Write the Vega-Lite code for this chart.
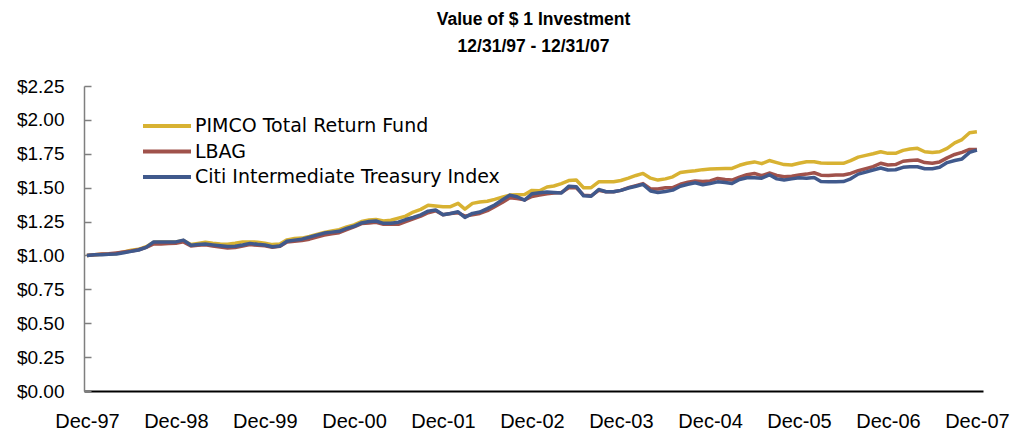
{
"$schema": "https://vega.github.io/schema/vega-lite/v6.json",
"width": 899, "height": 305,
"autosize": "none",
"padding": {"left": 84, "top": 86, "right": 38, "bottom": 40},
"background": "white",
"title": {"text": ["Value of $ 1 Investment", "12/31/97 - 12/31/07"], "font": "Liberation Sans", "fontSize": 17.5, "fontWeight": "bold", "color": "black", "lineHeight": 27, "anchor": "middle", "frame": "group", "offset": 22},
"config": {"view": {"stroke": null}},
"data": {"values": [
{"date":"1997-12","series":"PIMCO Total Return Fund","value":1.00},
{"date":"1998-01","series":"PIMCO Total Return Fund","value":1.005},
{"date":"1998-02","series":"PIMCO Total Return Fund","value":1.008},
{"date":"1998-03","series":"PIMCO Total Return Fund","value":1.01},
{"date":"1998-04","series":"PIMCO Total Return Fund","value":1.015},
{"date":"1998-05","series":"PIMCO Total Return Fund","value":1.025},
{"date":"1998-06","series":"PIMCO Total Return Fund","value":1.038},
{"date":"1998-07","series":"PIMCO Total Return Fund","value":1.045},
{"date":"1998-08","series":"PIMCO Total Return Fund","value":1.065},
{"date":"1998-09","series":"PIMCO Total Return Fund","value":1.098},
{"date":"1998-10","series":"PIMCO Total Return Fund","value":1.10},
{"date":"1998-11","series":"PIMCO Total Return Fund","value":1.10},
{"date":"1998-12","series":"PIMCO Total Return Fund","value":1.10},
{"date":"1999-01","series":"PIMCO Total Return Fund","value":1.11},
{"date":"1999-02","series":"PIMCO Total Return Fund","value":1.08},
{"date":"1999-03","series":"PIMCO Total Return Fund","value":1.088},
{"date":"1999-04","series":"PIMCO Total Return Fund","value":1.098},
{"date":"1999-05","series":"PIMCO Total Return Fund","value":1.09},
{"date":"1999-06","series":"PIMCO Total Return Fund","value":1.085},
{"date":"1999-07","series":"PIMCO Total Return Fund","value":1.083},
{"date":"1999-08","series":"PIMCO Total Return Fund","value":1.09},
{"date":"1999-09","series":"PIMCO Total Return Fund","value":1.10},
{"date":"1999-10","series":"PIMCO Total Return Fund","value":1.10},
{"date":"1999-11","series":"PIMCO Total Return Fund","value":1.098},
{"date":"1999-12","series":"PIMCO Total Return Fund","value":1.09},
{"date":"2000-01","series":"PIMCO Total Return Fund","value":1.08},
{"date":"2000-02","series":"PIMCO Total Return Fund","value":1.085},
{"date":"2000-03","series":"PIMCO Total Return Fund","value":1.115},
{"date":"2000-04","series":"PIMCO Total Return Fund","value":1.125},
{"date":"2000-05","series":"PIMCO Total Return Fund","value":1.128},
{"date":"2000-06","series":"PIMCO Total Return Fund","value":1.14},
{"date":"2000-07","series":"PIMCO Total Return Fund","value":1.155},
{"date":"2000-08","series":"PIMCO Total Return Fund","value":1.17},
{"date":"2000-09","series":"PIMCO Total Return Fund","value":1.18},
{"date":"2000-10","series":"PIMCO Total Return Fund","value":1.19},
{"date":"2000-11","series":"PIMCO Total Return Fund","value":1.21},
{"date":"2000-12","series":"PIMCO Total Return Fund","value":1.225},
{"date":"2001-01","series":"PIMCO Total Return Fund","value":1.25},
{"date":"2001-02","series":"PIMCO Total Return Fund","value":1.262},
{"date":"2001-03","series":"PIMCO Total Return Fund","value":1.266},
{"date":"2001-04","series":"PIMCO Total Return Fund","value":1.254},
{"date":"2001-05","series":"PIMCO Total Return Fund","value":1.26},
{"date":"2001-06","series":"PIMCO Total Return Fund","value":1.275},
{"date":"2001-07","series":"PIMCO Total Return Fund","value":1.29},
{"date":"2001-08","series":"PIMCO Total Return Fund","value":1.32},
{"date":"2001-09","series":"PIMCO Total Return Fund","value":1.34},
{"date":"2001-10","series":"PIMCO Total Return Fund","value":1.37},
{"date":"2001-11","series":"PIMCO Total Return Fund","value":1.365},
{"date":"2001-12","series":"PIMCO Total Return Fund","value":1.36},
{"date":"2002-01","series":"PIMCO Total Return Fund","value":1.36},
{"date":"2002-02","series":"PIMCO Total Return Fund","value":1.384},
{"date":"2002-03","series":"PIMCO Total Return Fund","value":1.342},
{"date":"2002-04","series":"PIMCO Total Return Fund","value":1.384},
{"date":"2002-05","series":"PIMCO Total Return Fund","value":1.394},
{"date":"2002-06","series":"PIMCO Total Return Fund","value":1.40},
{"date":"2002-07","series":"PIMCO Total Return Fund","value":1.414},
{"date":"2002-08","series":"PIMCO Total Return Fund","value":1.43},
{"date":"2002-09","series":"PIMCO Total Return Fund","value":1.445},
{"date":"2002-10","series":"PIMCO Total Return Fund","value":1.448},
{"date":"2002-11","series":"PIMCO Total Return Fund","value":1.45},
{"date":"2002-12","series":"PIMCO Total Return Fund","value":1.48},
{"date":"2003-01","series":"PIMCO Total Return Fund","value":1.477},
{"date":"2003-02","series":"PIMCO Total Return Fund","value":1.505},
{"date":"2003-03","series":"PIMCO Total Return Fund","value":1.512},
{"date":"2003-04","series":"PIMCO Total Return Fund","value":1.53},
{"date":"2003-05","series":"PIMCO Total Return Fund","value":1.552},
{"date":"2003-06","series":"PIMCO Total Return Fund","value":1.556},
{"date":"2003-07","series":"PIMCO Total Return Fund","value":1.50},
{"date":"2003-08","series":"PIMCO Total Return Fund","value":1.50},
{"date":"2003-09","series":"PIMCO Total Return Fund","value":1.543},
{"date":"2003-10","series":"PIMCO Total Return Fund","value":1.543},
{"date":"2003-11","series":"PIMCO Total Return Fund","value":1.543},
{"date":"2003-12","series":"PIMCO Total Return Fund","value":1.553},
{"date":"2004-01","series":"PIMCO Total Return Fund","value":1.57},
{"date":"2004-02","series":"PIMCO Total Return Fund","value":1.59},
{"date":"2004-03","series":"PIMCO Total Return Fund","value":1.605},
{"date":"2004-04","series":"PIMCO Total Return Fund","value":1.57},
{"date":"2004-05","series":"PIMCO Total Return Fund","value":1.556},
{"date":"2004-06","series":"PIMCO Total Return Fund","value":1.565},
{"date":"2004-07","series":"PIMCO Total Return Fund","value":1.58},
{"date":"2004-08","series":"PIMCO Total Return Fund","value":1.612},
{"date":"2004-09","series":"PIMCO Total Return Fund","value":1.62},
{"date":"2004-10","series":"PIMCO Total Return Fund","value":1.625},
{"date":"2004-11","series":"PIMCO Total Return Fund","value":1.633},
{"date":"2004-12","series":"PIMCO Total Return Fund","value":1.637},
{"date":"2005-01","series":"PIMCO Total Return Fund","value":1.64},
{"date":"2005-02","series":"PIMCO Total Return Fund","value":1.642},
{"date":"2005-03","series":"PIMCO Total Return Fund","value":1.642},
{"date":"2005-04","series":"PIMCO Total Return Fund","value":1.665},
{"date":"2005-05","series":"PIMCO Total Return Fund","value":1.68},
{"date":"2005-06","series":"PIMCO Total Return Fund","value":1.69},
{"date":"2005-07","series":"PIMCO Total Return Fund","value":1.677},
{"date":"2005-08","series":"PIMCO Total Return Fund","value":1.70},
{"date":"2005-09","series":"PIMCO Total Return Fund","value":1.685},
{"date":"2005-10","series":"PIMCO Total Return Fund","value":1.67},
{"date":"2005-11","series":"PIMCO Total Return Fund","value":1.667},
{"date":"2005-12","series":"PIMCO Total Return Fund","value":1.68},
{"date":"2006-01","series":"PIMCO Total Return Fund","value":1.691},
{"date":"2006-02","series":"PIMCO Total Return Fund","value":1.691},
{"date":"2006-03","series":"PIMCO Total Return Fund","value":1.682},
{"date":"2006-04","series":"PIMCO Total Return Fund","value":1.68},
{"date":"2006-05","series":"PIMCO Total Return Fund","value":1.68},
{"date":"2006-06","series":"PIMCO Total Return Fund","value":1.68},
{"date":"2006-07","series":"PIMCO Total Return Fund","value":1.70},
{"date":"2006-08","series":"PIMCO Total Return Fund","value":1.725},
{"date":"2006-09","series":"PIMCO Total Return Fund","value":1.738},
{"date":"2006-10","series":"PIMCO Total Return Fund","value":1.75},
{"date":"2006-11","series":"PIMCO Total Return Fund","value":1.765},
{"date":"2006-12","series":"PIMCO Total Return Fund","value":1.753},
{"date":"2007-01","series":"PIMCO Total Return Fund","value":1.753},
{"date":"2007-02","series":"PIMCO Total Return Fund","value":1.775},
{"date":"2007-03","series":"PIMCO Total Return Fund","value":1.785},
{"date":"2007-04","series":"PIMCO Total Return Fund","value":1.79},
{"date":"2007-05","series":"PIMCO Total Return Fund","value":1.765},
{"date":"2007-06","series":"PIMCO Total Return Fund","value":1.76},
{"date":"2007-07","series":"PIMCO Total Return Fund","value":1.765},
{"date":"2007-08","series":"PIMCO Total Return Fund","value":1.79},
{"date":"2007-09","series":"PIMCO Total Return Fund","value":1.83},
{"date":"2007-10","series":"PIMCO Total Return Fund","value":1.855},
{"date":"2007-11","series":"PIMCO Total Return Fund","value":1.905},
{"date":"2007-12","series":"PIMCO Total Return Fund","value":1.912},
{"date":"1997-12","series":"LBAG","value":1.00},
{"date":"1998-01","series":"LBAG","value":1.005},
{"date":"1998-02","series":"LBAG","value":1.01},
{"date":"1998-03","series":"LBAG","value":1.012},
{"date":"1998-04","series":"LBAG","value":1.018},
{"date":"1998-05","series":"LBAG","value":1.025},
{"date":"1998-06","series":"LBAG","value":1.033},
{"date":"1998-07","series":"LBAG","value":1.042},
{"date":"1998-08","series":"LBAG","value":1.06},
{"date":"1998-09","series":"LBAG","value":1.085},
{"date":"1998-10","series":"LBAG","value":1.085},
{"date":"1998-11","series":"LBAG","value":1.088},
{"date":"1998-12","series":"LBAG","value":1.09},
{"date":"1999-01","series":"LBAG","value":1.10},
{"date":"1999-02","series":"LBAG","value":1.07},
{"date":"1999-03","series":"LBAG","value":1.075},
{"date":"1999-04","series":"LBAG","value":1.078},
{"date":"1999-05","series":"LBAG","value":1.07},
{"date":"1999-06","series":"LBAG","value":1.062},
{"date":"1999-07","series":"LBAG","value":1.055},
{"date":"1999-08","series":"LBAG","value":1.058},
{"date":"1999-09","series":"LBAG","value":1.07},
{"date":"1999-10","series":"LBAG","value":1.08},
{"date":"1999-11","series":"LBAG","value":1.075},
{"date":"1999-12","series":"LBAG","value":1.072},
{"date":"2000-01","series":"LBAG","value":1.06},
{"date":"2000-02","series":"LBAG","value":1.068},
{"date":"2000-03","series":"LBAG","value":1.10},
{"date":"2000-04","series":"LBAG","value":1.105},
{"date":"2000-05","series":"LBAG","value":1.11},
{"date":"2000-06","series":"LBAG","value":1.12},
{"date":"2000-07","series":"LBAG","value":1.135},
{"date":"2000-08","series":"LBAG","value":1.15},
{"date":"2000-09","series":"LBAG","value":1.16},
{"date":"2000-10","series":"LBAG","value":1.168},
{"date":"2000-11","series":"LBAG","value":1.19},
{"date":"2000-12","series":"LBAG","value":1.21},
{"date":"2001-01","series":"LBAG","value":1.235},
{"date":"2001-02","series":"LBAG","value":1.24},
{"date":"2001-03","series":"LBAG","value":1.245},
{"date":"2001-04","series":"LBAG","value":1.23},
{"date":"2001-05","series":"LBAG","value":1.23},
{"date":"2001-06","series":"LBAG","value":1.23},
{"date":"2001-07","series":"LBAG","value":1.25},
{"date":"2001-08","series":"LBAG","value":1.27},
{"date":"2001-09","series":"LBAG","value":1.29},
{"date":"2001-10","series":"LBAG","value":1.315},
{"date":"2001-11","series":"LBAG","value":1.33},
{"date":"2001-12","series":"LBAG","value":1.30},
{"date":"2002-01","series":"LBAG","value":1.31},
{"date":"2002-02","series":"LBAG","value":1.315},
{"date":"2002-03","series":"LBAG","value":1.29},
{"date":"2002-04","series":"LBAG","value":1.30},
{"date":"2002-05","series":"LBAG","value":1.31},
{"date":"2002-06","series":"LBAG","value":1.33},
{"date":"2002-07","series":"LBAG","value":1.36},
{"date":"2002-08","series":"LBAG","value":1.39},
{"date":"2002-09","series":"LBAG","value":1.425},
{"date":"2002-10","series":"LBAG","value":1.42},
{"date":"2002-11","series":"LBAG","value":1.41},
{"date":"2002-12","series":"LBAG","value":1.435},
{"date":"2003-01","series":"LBAG","value":1.445},
{"date":"2003-02","series":"LBAG","value":1.455},
{"date":"2003-03","series":"LBAG","value":1.46},
{"date":"2003-04","series":"LBAG","value":1.465},
{"date":"2003-05","series":"LBAG","value":1.50},
{"date":"2003-06","series":"LBAG","value":1.50},
{"date":"2003-07","series":"LBAG","value":1.445},
{"date":"2003-08","series":"LBAG","value":1.44},
{"date":"2003-09","series":"LBAG","value":1.48},
{"date":"2003-10","series":"LBAG","value":1.47},
{"date":"2003-11","series":"LBAG","value":1.47},
{"date":"2003-12","series":"LBAG","value":1.48},
{"date":"2004-01","series":"LBAG","value":1.50},
{"date":"2004-02","series":"LBAG","value":1.515},
{"date":"2004-03","series":"LBAG","value":1.53},
{"date":"2004-04","series":"LBAG","value":1.49},
{"date":"2004-05","series":"LBAG","value":1.49},
{"date":"2004-06","series":"LBAG","value":1.50},
{"date":"2004-07","series":"LBAG","value":1.50},
{"date":"2004-08","series":"LBAG","value":1.525},
{"date":"2004-09","series":"LBAG","value":1.54},
{"date":"2004-10","series":"LBAG","value":1.55},
{"date":"2004-11","series":"LBAG","value":1.545},
{"date":"2004-12","series":"LBAG","value":1.55},
{"date":"2005-01","series":"LBAG","value":1.568},
{"date":"2005-02","series":"LBAG","value":1.56},
{"date":"2005-03","series":"LBAG","value":1.556},
{"date":"2005-04","series":"LBAG","value":1.578},
{"date":"2005-05","series":"LBAG","value":1.595},
{"date":"2005-06","series":"LBAG","value":1.605},
{"date":"2005-07","series":"LBAG","value":1.588},
{"date":"2005-08","series":"LBAG","value":1.608},
{"date":"2005-09","series":"LBAG","value":1.59},
{"date":"2005-10","series":"LBAG","value":1.58},
{"date":"2005-11","series":"LBAG","value":1.585},
{"date":"2005-12","series":"LBAG","value":1.593},
{"date":"2006-01","series":"LBAG","value":1.60},
{"date":"2006-02","series":"LBAG","value":1.61},
{"date":"2006-03","series":"LBAG","value":1.592},
{"date":"2006-04","series":"LBAG","value":1.59},
{"date":"2006-05","series":"LBAG","value":1.593},
{"date":"2006-06","series":"LBAG","value":1.593},
{"date":"2006-07","series":"LBAG","value":1.605},
{"date":"2006-08","series":"LBAG","value":1.625},
{"date":"2006-09","series":"LBAG","value":1.64},
{"date":"2006-10","series":"LBAG","value":1.655},
{"date":"2006-11","series":"LBAG","value":1.68},
{"date":"2006-12","series":"LBAG","value":1.667},
{"date":"2007-01","series":"LBAG","value":1.67},
{"date":"2007-02","series":"LBAG","value":1.695},
{"date":"2007-03","series":"LBAG","value":1.70},
{"date":"2007-04","series":"LBAG","value":1.704},
{"date":"2007-05","series":"LBAG","value":1.685},
{"date":"2007-06","series":"LBAG","value":1.68},
{"date":"2007-07","series":"LBAG","value":1.69},
{"date":"2007-08","series":"LBAG","value":1.72},
{"date":"2007-09","series":"LBAG","value":1.745},
{"date":"2007-10","series":"LBAG","value":1.76},
{"date":"2007-11","series":"LBAG","value":1.782},
{"date":"2007-12","series":"LBAG","value":1.782},
{"date":"1997-12","series":"Citi Intermediate Treasury Index","value":1.00},
{"date":"1998-01","series":"Citi Intermediate Treasury Index","value":1.005},
{"date":"1998-02","series":"Citi Intermediate Treasury Index","value":1.006},
{"date":"1998-03","series":"Citi Intermediate Treasury Index","value":1.008},
{"date":"1998-04","series":"Citi Intermediate Treasury Index","value":1.01},
{"date":"1998-05","series":"Citi Intermediate Treasury Index","value":1.02},
{"date":"1998-06","series":"Citi Intermediate Treasury Index","value":1.03},
{"date":"1998-07","series":"Citi Intermediate Treasury Index","value":1.04},
{"date":"1998-08","series":"Citi Intermediate Treasury Index","value":1.06},
{"date":"1998-09","series":"Citi Intermediate Treasury Index","value":1.10},
{"date":"1998-10","series":"Citi Intermediate Treasury Index","value":1.10},
{"date":"1998-11","series":"Citi Intermediate Treasury Index","value":1.10},
{"date":"1998-12","series":"Citi Intermediate Treasury Index","value":1.10},
{"date":"1999-01","series":"Citi Intermediate Treasury Index","value":1.113},
{"date":"1999-02","series":"Citi Intermediate Treasury Index","value":1.075},
{"date":"1999-03","series":"Citi Intermediate Treasury Index","value":1.08},
{"date":"1999-04","series":"Citi Intermediate Treasury Index","value":1.084},
{"date":"1999-05","series":"Citi Intermediate Treasury Index","value":1.078},
{"date":"1999-06","series":"Citi Intermediate Treasury Index","value":1.072},
{"date":"1999-07","series":"Citi Intermediate Treasury Index","value":1.066},
{"date":"1999-08","series":"Citi Intermediate Treasury Index","value":1.068},
{"date":"1999-09","series":"Citi Intermediate Treasury Index","value":1.077},
{"date":"1999-10","series":"Citi Intermediate Treasury Index","value":1.089},
{"date":"1999-11","series":"Citi Intermediate Treasury Index","value":1.082},
{"date":"1999-12","series":"Citi Intermediate Treasury Index","value":1.077},
{"date":"2000-01","series":"Citi Intermediate Treasury Index","value":1.064},
{"date":"2000-02","series":"Citi Intermediate Treasury Index","value":1.07},
{"date":"2000-03","series":"Citi Intermediate Treasury Index","value":1.105},
{"date":"2000-04","series":"Citi Intermediate Treasury Index","value":1.113},
{"date":"2000-05","series":"Citi Intermediate Treasury Index","value":1.12},
{"date":"2000-06","series":"Citi Intermediate Treasury Index","value":1.135},
{"date":"2000-07","series":"Citi Intermediate Treasury Index","value":1.15},
{"date":"2000-08","series":"Citi Intermediate Treasury Index","value":1.165},
{"date":"2000-09","series":"Citi Intermediate Treasury Index","value":1.172},
{"date":"2000-10","series":"Citi Intermediate Treasury Index","value":1.178},
{"date":"2000-11","series":"Citi Intermediate Treasury Index","value":1.20},
{"date":"2000-12","series":"Citi Intermediate Treasury Index","value":1.215},
{"date":"2001-01","series":"Citi Intermediate Treasury Index","value":1.24},
{"date":"2001-02","series":"Citi Intermediate Treasury Index","value":1.25},
{"date":"2001-03","series":"Citi Intermediate Treasury Index","value":1.254},
{"date":"2001-04","series":"Citi Intermediate Treasury Index","value":1.237},
{"date":"2001-05","series":"Citi Intermediate Treasury Index","value":1.237},
{"date":"2001-06","series":"Citi Intermediate Treasury Index","value":1.245},
{"date":"2001-07","series":"Citi Intermediate Treasury Index","value":1.265},
{"date":"2001-08","series":"Citi Intermediate Treasury Index","value":1.28},
{"date":"2001-09","series":"Citi Intermediate Treasury Index","value":1.30},
{"date":"2001-10","series":"Citi Intermediate Treasury Index","value":1.327},
{"date":"2001-11","series":"Citi Intermediate Treasury Index","value":1.335},
{"date":"2001-12","series":"Citi Intermediate Treasury Index","value":1.30},
{"date":"2002-01","series":"Citi Intermediate Treasury Index","value":1.31},
{"date":"2002-02","series":"Citi Intermediate Treasury Index","value":1.322},
{"date":"2002-03","series":"Citi Intermediate Treasury Index","value":1.281},
{"date":"2002-04","series":"Citi Intermediate Treasury Index","value":1.31},
{"date":"2002-05","series":"Citi Intermediate Treasury Index","value":1.32},
{"date":"2002-06","series":"Citi Intermediate Treasury Index","value":1.345},
{"date":"2002-07","series":"Citi Intermediate Treasury Index","value":1.372},
{"date":"2002-08","series":"Citi Intermediate Treasury Index","value":1.41},
{"date":"2002-09","series":"Citi Intermediate Treasury Index","value":1.445},
{"date":"2002-10","series":"Citi Intermediate Treasury Index","value":1.433},
{"date":"2002-11","series":"Citi Intermediate Treasury Index","value":1.408},
{"date":"2002-12","series":"Citi Intermediate Treasury Index","value":1.455},
{"date":"2003-01","series":"Citi Intermediate Treasury Index","value":1.462},
{"date":"2003-02","series":"Citi Intermediate Treasury Index","value":1.468},
{"date":"2003-03","series":"Citi Intermediate Treasury Index","value":1.465},
{"date":"2003-04","series":"Citi Intermediate Treasury Index","value":1.46},
{"date":"2003-05","series":"Citi Intermediate Treasury Index","value":1.51},
{"date":"2003-06","series":"Citi Intermediate Treasury Index","value":1.507},
{"date":"2003-07","series":"Citi Intermediate Treasury Index","value":1.44},
{"date":"2003-08","series":"Citi Intermediate Treasury Index","value":1.437},
{"date":"2003-09","series":"Citi Intermediate Treasury Index","value":1.487},
{"date":"2003-10","series":"Citi Intermediate Treasury Index","value":1.47},
{"date":"2003-11","series":"Citi Intermediate Treasury Index","value":1.47},
{"date":"2003-12","series":"Citi Intermediate Treasury Index","value":1.48},
{"date":"2004-01","series":"Citi Intermediate Treasury Index","value":1.497},
{"date":"2004-02","series":"Citi Intermediate Treasury Index","value":1.51},
{"date":"2004-03","series":"Citi Intermediate Treasury Index","value":1.524},
{"date":"2004-04","series":"Citi Intermediate Treasury Index","value":1.475},
{"date":"2004-05","series":"Citi Intermediate Treasury Index","value":1.465},
{"date":"2004-06","series":"Citi Intermediate Treasury Index","value":1.472},
{"date":"2004-07","series":"Citi Intermediate Treasury Index","value":1.482},
{"date":"2004-08","series":"Citi Intermediate Treasury Index","value":1.51},
{"date":"2004-09","series":"Citi Intermediate Treasury Index","value":1.525},
{"date":"2004-10","series":"Citi Intermediate Treasury Index","value":1.536},
{"date":"2004-11","series":"Citi Intermediate Treasury Index","value":1.522},
{"date":"2004-12","series":"Citi Intermediate Treasury Index","value":1.53},
{"date":"2005-01","series":"Citi Intermediate Treasury Index","value":1.543},
{"date":"2005-02","series":"Citi Intermediate Treasury Index","value":1.538},
{"date":"2005-03","series":"Citi Intermediate Treasury Index","value":1.531},
{"date":"2005-04","series":"Citi Intermediate Treasury Index","value":1.56},
{"date":"2005-05","series":"Citi Intermediate Treasury Index","value":1.573},
{"date":"2005-06","series":"Citi Intermediate Treasury Index","value":1.573},
{"date":"2005-07","series":"Citi Intermediate Treasury Index","value":1.57},
{"date":"2005-08","series":"Citi Intermediate Treasury Index","value":1.595},
{"date":"2005-09","series":"Citi Intermediate Treasury Index","value":1.565},
{"date":"2005-10","series":"Citi Intermediate Treasury Index","value":1.556},
{"date":"2005-11","series":"Citi Intermediate Treasury Index","value":1.565},
{"date":"2005-12","series":"Citi Intermediate Treasury Index","value":1.573},
{"date":"2006-01","series":"Citi Intermediate Treasury Index","value":1.57},
{"date":"2006-02","series":"Citi Intermediate Treasury Index","value":1.575},
{"date":"2006-03","series":"Citi Intermediate Treasury Index","value":1.545},
{"date":"2006-04","series":"Citi Intermediate Treasury Index","value":1.543},
{"date":"2006-05","series":"Citi Intermediate Treasury Index","value":1.543},
{"date":"2006-06","series":"Citi Intermediate Treasury Index","value":1.545},
{"date":"2006-07","series":"Citi Intermediate Treasury Index","value":1.565},
{"date":"2006-08","series":"Citi Intermediate Treasury Index","value":1.60},
{"date":"2006-09","series":"Citi Intermediate Treasury Index","value":1.615},
{"date":"2006-10","series":"Citi Intermediate Treasury Index","value":1.63},
{"date":"2006-11","series":"Citi Intermediate Treasury Index","value":1.645},
{"date":"2006-12","series":"Citi Intermediate Treasury Index","value":1.63},
{"date":"2007-01","series":"Citi Intermediate Treasury Index","value":1.632},
{"date":"2007-02","series":"Citi Intermediate Treasury Index","value":1.65},
{"date":"2007-03","series":"Citi Intermediate Treasury Index","value":1.654},
{"date":"2007-04","series":"Citi Intermediate Treasury Index","value":1.654},
{"date":"2007-05","series":"Citi Intermediate Treasury Index","value":1.64},
{"date":"2007-06","series":"Citi Intermediate Treasury Index","value":1.64},
{"date":"2007-07","series":"Citi Intermediate Treasury Index","value":1.65},
{"date":"2007-08","series":"Citi Intermediate Treasury Index","value":1.685},
{"date":"2007-09","series":"Citi Intermediate Treasury Index","value":1.70},
{"date":"2007-10","series":"Citi Intermediate Treasury Index","value":1.712},
{"date":"2007-11","series":"Citi Intermediate Treasury Index","value":1.76},
{"date":"2007-12","series":"Citi Intermediate Treasury Index","value":1.777}
]},
"mark": {"type": "line", "strokeWidth": 3.5, "strokeJoin": "round", "strokeCap": "butt"},
"encoding": {
  "x": {"field": "date", "type": "temporal",
    "scale": {"type": "utc", "domain": [{"year": 1997, "month": 11, "date": 19, "utc": true}, {"year": 2007, "month": 12, "date": 26, "utc": true}]},
    "axis": {"title": null, "grid": false, "ticks": false,
      "values": [{"year":1997,"month":12,"date":1,"utc":true},{"year":1998,"month":12,"date":1,"utc":true},{"year":1999,"month":12,"date":1,"utc":true},{"year":2000,"month":12,"date":1,"utc":true},{"year":2001,"month":12,"date":1,"utc":true},{"year":2002,"month":12,"date":1,"utc":true},{"year":2003,"month":12,"date":1,"utc":true},{"year":2004,"month":12,"date":1,"utc":true},{"year":2005,"month":12,"date":1,"utc":true},{"year":2006,"month":12,"date":1,"utc":true},{"year":2007,"month":12,"date":1,"utc":true}],
      "labelExpr": "utcFormat(datum.value, '%b-%y')",
      "labelFont": "Liberation Sans", "labelFontSize": 20, "labelFontWeight": "normal", "labelColor": "black", "labelPadding": 20, "labelFlush": false, "labelOverlap": false,
      "domainColor": "black", "domainWidth": 2}},
  "y": {"field": "value", "type": "quantitative",
    "scale": {"domain": [0, 2.25], "nice": false, "zero": true},
    "axis": {"title": null, "grid": false, "values": [0, 0.25, 0.5, 0.75, 1, 1.25, 1.5, 1.75, 2, 2.25],
      "format": "$.2f", "labelFont": "Liberation Sans", "labelFontSize": 19, "labelFontWeight": "normal", "labelColor": "black", "labelPadding": 27,
      "tickSize": -7, "tickColor": "#7f7f7f", "tickWidth": 1.5, "domainColor": "#7f7f7f", "domainWidth": 1.5, "labelFlush": false}},
  "color": {"field": "series", "type": "nominal", "sort": null,
    "scale": {"domain": ["PIMCO Total Return Fund", "LBAG", "Citi Intermediate Treasury Index"], "range": ["#D8B232", "#A0524B", "#40598C"]},
    "legend": {"title": null, "orient": "none", "legendX": 71, "legendY": 28, "padding": 0, "direction": "vertical",
      "symbolType": "M-2.4,0H2.4", "symbolSize": 400, "symbolStrokeWidth": 4, "symbolFillColor": "transparent",
      "labelFont": "DejaVu Sans", "labelFontSize": 19, "labelFontWeight": "normal", "labelColor": "black", "labelOffset": 16, "labelLimit": 0, "rowPadding": 3.5}}
}
}
